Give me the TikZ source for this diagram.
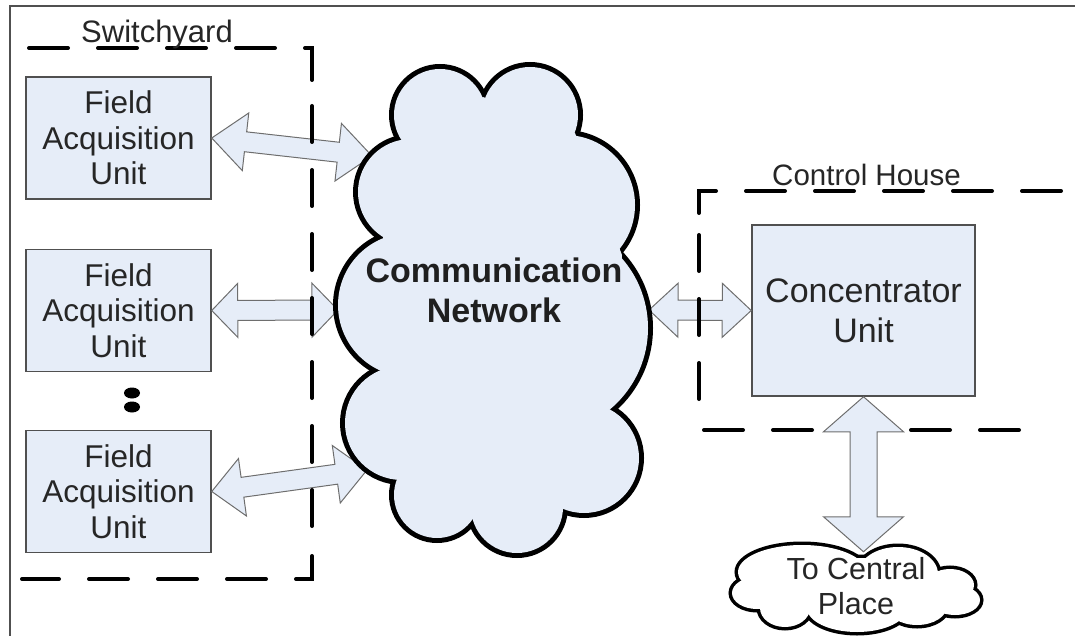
\documentclass[tikz,border=0pt]{standalone}
\usepackage{fontspec}
\setmainfont{Liberation Sans}
\usetikzlibrary{calc}
\definecolor{boxfill}{RGB}{230,237,248}
\definecolor{boxline}{RGB}{80,80,80}
\definecolor{arrline}{RGB}{110,110,110}
\definecolor{txt}{RGB}{38,38,38}
\tikzset{
  unitbox/.style={draw=boxline, line width=1.5pt, fill=boxfill, inner sep=0pt, align=center, text=txt},
  faubox/.style={unitbox, minimum width=185pt, minimum height=122pt, font=\fontsize{31.5pt}{35.5pt}\selectfont},
  blockarrow/.style={draw=arrline, line width=1pt, fill=boxfill, line join=miter},
  regionline/.style={line width=4pt, line cap=round, dash pattern=on 39pt off 30pt},
  regionvert/.style={line width=4pt, line cap=round, dash pattern=on 36pt off 28pt},
  regionlabel/.style={anchor=base, text=txt, inner sep=0pt},
  cloudline/.style={line width=10pt, draw=black},
  smallcloudline/.style={line width=7pt, draw=black},
}
% #1 start, #2 end, #3 head length, #4 head half width, #5 shaft half width
\newcommand{\blockarr}[5]{%
  \path (#1) coordinate (ba-a) (#2) coordinate (ba-b);
  \coordinate (ba-h1) at ($(ba-a)!#3!(ba-b)$);
  \coordinate (ba-h2) at ($(ba-b)!#3!(ba-a)$);
  \draw[blockarrow] (ba-a) -- ($(ba-h1)!#4!90:(ba-b)$) -- ($(ba-h1)!#5!90:(ba-b)$)
    -- ($(ba-h2)!#5!-90:(ba-a)$) -- ($(ba-h2)!#4!-90:(ba-a)$) -- (ba-b)
    -- ($(ba-h2)!#4!90:(ba-a)$) -- ($(ba-h2)!#5!90:(ba-a)$)
    -- ($(ba-h1)!#5!-90:(ba-b)$) -- ($(ba-h1)!#4!-90:(ba-b)$) -- cycle;
}
\begin{document}
\begin{tikzpicture}[x=1pt,y=-1pt]
\useasboundingbox (0,0) rectangle (1075,636);
% outer frame
\draw[boxline, line width=1.5pt] (1075,6) -- (10,6) -- (10,636);

% units
\node[faubox] (fau1) at (118.5,138) {Field\\Acquisition\\Unit};
\node[faubox] (fau2) at (118.5,310.5) {Field\\Acquisition\\Unit};
\node[faubox] (fau3) at (118.5,491.5) {Field\\Acquisition\\Unit};
\node[unitbox, minimum width=223pt, minimum height=171pt, font=\fontsize{34pt}{40pt}\selectfont] (conc) at (863.5,310.5) {Concentrator\\Unit};
\fill[black] (132,393) ellipse[x radius=8pt, y radius=5.5pt];
\fill[black] (132,407) ellipse[x radius=8pt, y radius=5.5pt];

% connection points on the network cloud
\coordinate (net1) at (372,156);
\coordinate (net2) at (338,310);
\coordinate (net3) at (367,470);
\coordinate (net4) at (649,310);

\blockarr{fau1.east}{net1}{34pt}{29pt}{10pt}
\blockarr{fau2.east}{net2}{26pt}{27pt}{10pt}
\blockarr{fau3.east}{net3}{31pt}{29pt}{10pt}
\blockarr{net4}{conc.west}{29pt}{27pt}{10pt}

% communication network cloud (union of lobes)
\def\lobes{440/115/46, 530/115/48, 565/205/70, 542/328/106, 584/458/55, 517/507/46, 437/495/43, 402/423/57, 410/305/72, 411/192/53}
\foreach \cx/\cy/\r in \lobes { \draw[cloudline] (\cx,\cy) circle[radius=\r pt]; }
\fill[boxfill] (402,140) -- (483,97) -- (575,133) -- (622,255) -- (610,407) -- (563,508) -- (472,510) -- (402,480) -- (383,372) -- (383,237) -- cycle;
\foreach \cx/\cy/\r in \lobes { \fill[boxfill] (\cx,\cy) circle[radius=\r pt]; }
\node[align=center, font=\bfseries\fontsize{34pt}{40pt}\selectfont, text=black!88, inner sep=0pt] (nettext) at (494,290) {Communication\\Network};

% switchyard region
\draw[regionline] (29,48) -- (312,48) -- (312,80);
\draw[regionvert] (312,106) -- (312,530);
\draw[regionline] (312,556) -- (312,579) -- (22,579);
% control house region
\draw[regionline] (1061,191) -- (699,191) -- (699,213);
\draw[regionvert] (699,235) -- (699,407);
\draw[regionline] (704,430) -- (1020,430);
\node[regionlabel, font=\fontsize{31pt}{35pt}\selectfont] (sylabel) at (157,43) {Switchyard};
\node[regionlabel, font=\fontsize{29.5pt}{35pt}\selectfont] (chlabel) at (866.5,186) {Control House};

% central place
\path (conc.south) ++(0,155) coordinate (cpt);
\blockarr{conc.south}{cpt}{35pt}{40pt}{13.5pt}
\def\puffs{802/572/64/27, 898/574/40/27, 950/585/24/16, 955/600/25/15, 917/606/30/19, 857/608/50/24, 785/608/25/19, 757/593/25/16, 856/588/100/30}
\foreach \cx/\cy/\rx/\ry in \puffs { \draw[smallcloudline] (\cx,\cy) ellipse[x radius=\rx pt, y radius=\ry pt]; }
\foreach \cx/\cy/\rx/\ry in \puffs { \fill[white] (\cx,\cy) ellipse[x radius=\rx pt, y radius=\ry pt]; }
\node[align=center, text=txt, font=\fontsize{30.5pt}{35pt}\selectfont, inner sep=0pt] (cptext) at (856,586) {To Central\\Place};
\end{tikzpicture}
\end{document}
